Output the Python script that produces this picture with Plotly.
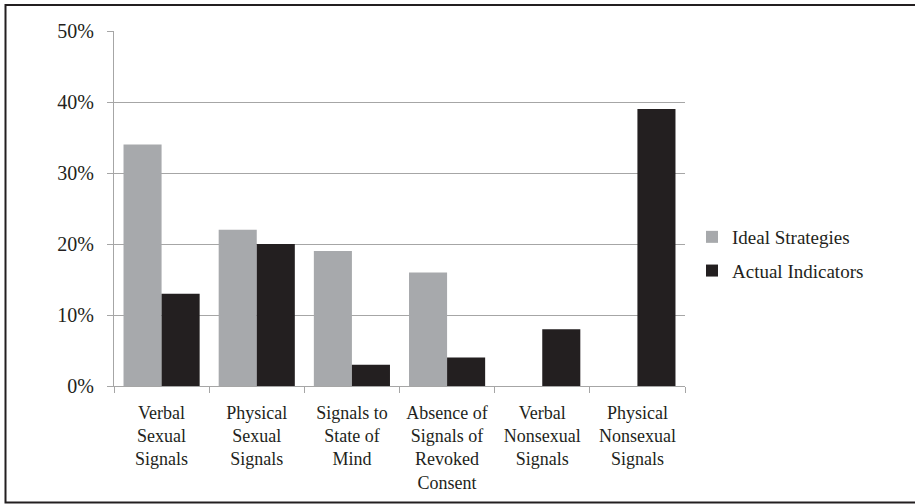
import plotly.graph_objects as go

categories = [
    "Verbal<br>Sexual<br>Signals",
    "Physical<br>Sexual<br>Signals",
    "Signals to<br>State of<br>Mind",
    "Absence of<br>Signals of<br>Revoked<br>Consent",
    "Verbal<br>Nonsexual<br>Signals",
    "Physical<br>Nonsexual<br>Signals",
]
ideal_strategies = [34, 22, 19, 16, 0, 0]
actual_indicators = [13, 20, 3, 4, 8, 39]
y_tick_values = [0, 10, 20, 30, 40, 50]
y_tick_labels = ["0%", "10%", "20%", "30%", "40%", "50%"]

W, H = 915, 504
L, R, T, B = 114, 230, 31, 118
pw, ph = W - L - R, H - T - B

font_family = "Liberation Serif, Times New Roman, serif"
text_color = "#231f20"
grid_color = "#a6a6a6"

fig = go.Figure()
fig.add_trace(go.Bar(x=categories, y=ideal_strategies, name="Ideal Strategies",
                     marker=dict(color="#a7a9ac", line=dict(width=0)), legendgroup="a"))
fig.add_trace(go.Bar(x=categories, y=actual_indicators, name="Actual Indicators",
                     marker=dict(color="#231f20", line=dict(width=0)), legendgroup="b"))

def px_x(p):
    return (p - L) / pw

def px_y(p):
    return (H - B - p) / ph

fig.add_shape(type="rect", xref="paper", yref="paper",
              x0=px_x(5.5), x1=px_x(925), y0=px_y(5), y1=px_y(502.5),
              line=dict(color="#231f20", width=2), fillcolor="rgba(0,0,0,0)", layer="below")

fig.update_layout(
    width=W, height=H,
    margin=dict(l=L, r=R, t=T, b=B, autoexpand=False),
    paper_bgcolor="white", plot_bgcolor="white",
    barmode="group", bargap=0.2, bargroupgap=0,
    font=dict(family=font_family, color=text_color, size=18),
    legend=dict(x=px_x(692), xanchor="left", y=px_y(254), yanchor="middle",
                font=dict(size=19, family=font_family, color=text_color),
                traceorder="grouped", tracegroupgap=6, itemwidth=30,
                bgcolor="rgba(0,0,0,0)"),
    showlegend=True,
)
fig.update_xaxes(
    showline=True, linecolor=grid_color, linewidth=1,
    ticks="outside", tickson="boundaries", ticklen=6, tickcolor=grid_color,
    tickfont=dict(size=18, family=font_family, color=text_color),
    showgrid=False, ticklabelstandoff=10, automargin=False,
)
fig.update_yaxes(
    range=[0, 50], tickvals=y_tick_values, ticktext=y_tick_labels,
    showline=True, linecolor=grid_color, linewidth=1,
    ticks="outside", ticklen=6, tickcolor=grid_color,
    showgrid=True, gridcolor=grid_color, gridwidth=1,
    tickfont=dict(size=20, family=font_family, color=text_color),
    ticklabelstandoff=9, zeroline=False, automargin=False,
)

fig.write_html("out.html", config={"displayModeBar": False},
               post_script="document.body.style.margin='0';document.body.style.overflow='hidden';")
